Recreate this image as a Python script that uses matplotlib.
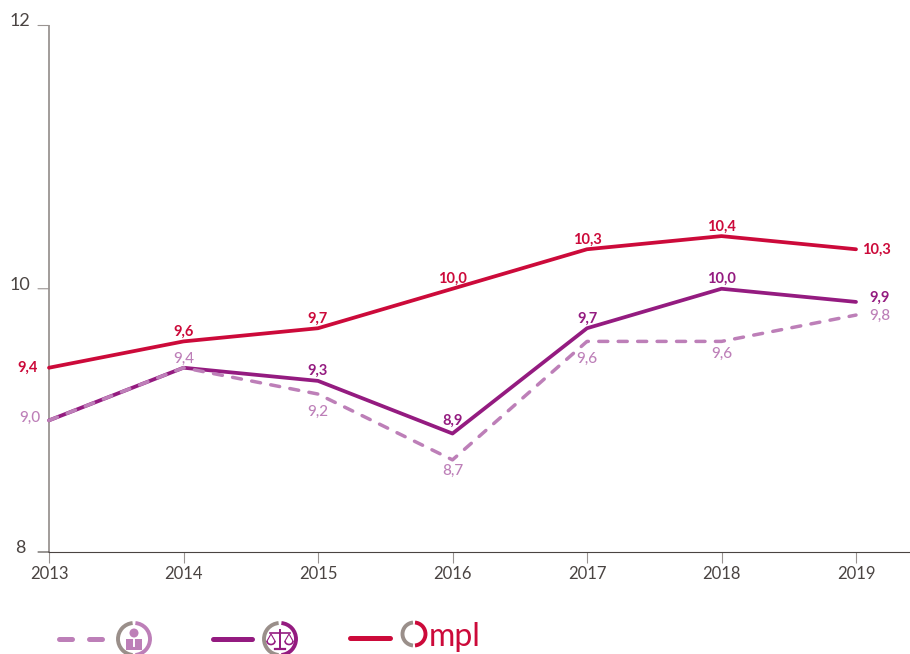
import matplotlib
matplotlib.use('Agg')
import matplotlib.pyplot as plt
from matplotlib.patches import Arc, Circle, Rectangle

plt.rcParams['font.family'] = ['Lato', 'DejaVu Sans']

years = [2013, 2014, 2015, 2016, 2017, 2018, 2019]
ompl = [9.4, 9.6, 9.7, 10.0, 10.3, 10.4, 10.3]
justice = [9.0, 9.4, 9.3, 8.9, 9.7, 10.0, 9.9]
usagers = [9.0, 9.4, 9.2, 8.7, 9.6, 9.6, 9.8]
ompl_labels = ['9,4', '9,6', '9,7', '10,0', '10,3', '10,4', '10,3']
justice_labels = ['', '', '9,3', '8,9', '9,7', '10,0', '9,9']
usagers_labels = ['9,0', '9,4', '9,2', '8,7', '9,6', '9,6', '9,8']
yticks = [8, 10, 12]

RED = '#cc0a3a'
PURPLE = '#941b80'
LIGHT = '#bd7fb8'
GREY = '#9a9492'
DARK = '#4a4442'

ompl_off = [(-21, 0), (0, 10), (0, 9), (0, 10), (0, 9), (0, 9), (20, -1)]
justice_off = [(0, 0), (0, 0), (0, 10), (0, 13), (0, 9), (0, 10), (24, 4)]
usagers_off = [(-19, 3), (0, 9), (0, -18), (0, -11), (0, -17), (0, -12), (24, -1)]

fig = plt.figure(figsize=(9.1, 6.54), dpi=100)
ax = fig.add_axes([49 / 910, 1 - 552 / 654, 861 / 910, 526.5 / 654])
ax.set_xlim(2013, 2013 + 861 / 134.5)
ax.set_ylim(8, 12)

ax.plot(years, ompl, color=RED, lw=2.7, solid_capstyle='round', clip_on=False, zorder=3)
ax.plot(years, justice, color=PURPLE, lw=2.7, solid_capstyle='round', clip_on=False, zorder=3)
ax.plot(years, usagers, color=LIGHT, lw=2.5, ls=(0, (2.6, 3.0)), dash_capstyle='round',
        clip_on=False, zorder=4)


def put_labels(values, labels, offsets, color, weight, size):
    for x, v, lab, off in zip(years, values, labels, offsets):
        if lab:
            ax.annotate(lab, (x, v), xytext=off, textcoords='offset pixels', ha='center',
                        va='center', color=color, fontsize=size, fontweight=weight, zorder=5)


put_labels(ompl, ompl_labels, ompl_off, RED, 'bold', 10.5)
put_labels(justice, justice_labels, justice_off, PURPLE, 'bold', 10.5)
put_labels(usagers, usagers_labels, usagers_off, LIGHT, 'medium', 11)

for s in ['top', 'right']:
    ax.spines[s].set_visible(False)
ax.spines['left'].set_color(GREY)
ax.spines['left'].set_linewidth(1.3)
ax.spines['bottom'].set_color(DARK)
ax.spines['bottom'].set_linewidth(0.8)
ax.set_xticks(years)
ax.set_yticks(yticks)
ax.tick_params(axis='x', length=8, width=0.8, color=GREY, labelcolor=DARK, labelsize=12, pad=2)
ax.tick_params(axis='y', length=0)
ax.set_yticklabels([])
for v in yticks:
    ax.annotate(str(v), (2013, v), xytext=(-29, 4), textcoords='offset pixels', ha='center',
                va='center', color=DARK, fontsize=13, annotation_clip=False)
    ax.annotate('', (2013, v), xytext=(-11, 0), textcoords='offset pixels',
                arrowprops=dict(arrowstyle='-', color=DARK if v == 8 else GREY, lw=0.8,
                                shrinkA=0, shrinkB=0), annotation_clip=False)

# legend, drawn in pixel space
leg = fig.add_axes([0, 0, 1, 1])
leg.set_xlim(0, 910)
leg.set_ylim(654, 0)
leg.axis('off')
leg.patch.set_alpha(0)

leg.plot([59, 106], [639, 639], color=LIGHT, lw=3.6, ls=(0, (2.6, 3.4)), dash_capstyle='round')
leg.plot([213, 252], [639, 639], color=PURPLE, lw=3.6, solid_capstyle='round')
leg.plot([350, 390], [638, 638], color=RED, lw=3.6, solid_capstyle='round')


def ring(cx, cy, r, color):
    leg.add_patch(Arc((cx, cy), 2 * r, 2 * r, theta1=95, theta2=265, color='#9a8f8a', lw=2.8))
    leg.add_patch(Arc((cx, cy), 2 * r, 2 * r, theta1=-85, theta2=85, color=color, lw=2.8))


ring(134, 639, 16, LIGHT)
leg.add_patch(Circle((134, 633), 4.5, color=LIGHT, lw=0))
leg.add_patch(Rectangle((126, 639), 16, 11, color=LIGHT, lw=0))
leg.plot([134, 134], [640, 646], color='white', lw=1.4)

ring(280, 639, 16, PURPLE)
leg.plot([270, 290], [633, 633], color=PURPLE, lw=1.2)
leg.plot([280, 280], [630, 648], color=PURPLE, lw=1.4)
leg.plot([275, 285], [649, 649], color=PURPLE, lw=1.6)
for cx in [271, 289]:
    leg.plot([cx - 4, cx, cx + 4], [641, 634, 641], color=PURPLE, lw=0.8)
    leg.add_patch(Arc((cx, 641), 8, 7, theta1=0, theta2=180, color=PURPLE, lw=1.2))

ring(414, 634, 11.5, RED)
leg.text(429, 646, 'mpl', color=RED, fontsize=23, ha='left', va='baseline', fontweight='normal')

fig.savefig('out.png', dpi=100)
